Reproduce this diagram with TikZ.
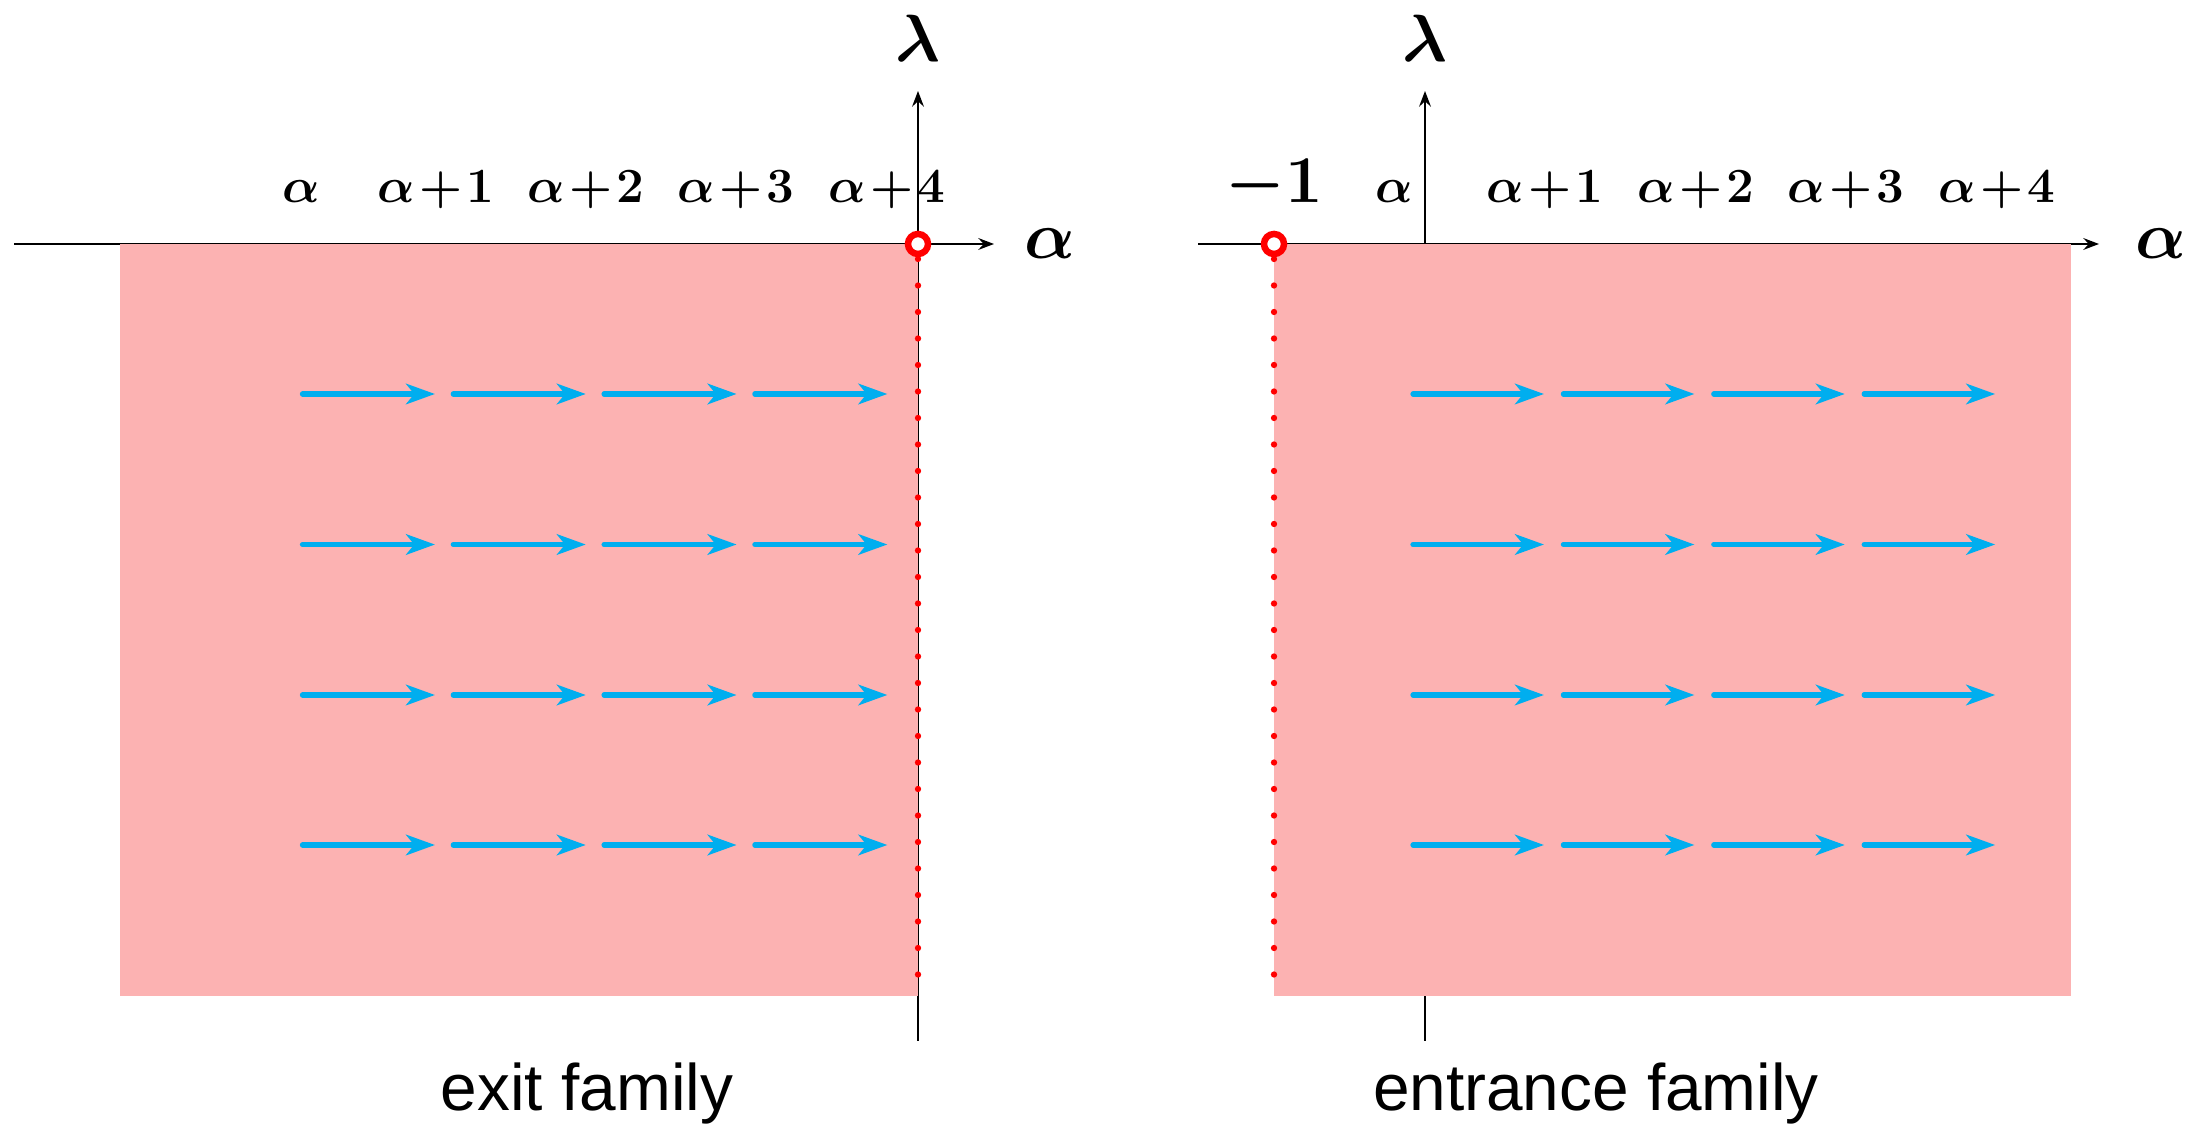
\RequirePackage{fix-cm}
\documentclass[tikz,border=0pt]{standalone}
\usepackage{fontspec}
\usepackage{bm}
\usetikzlibrary{arrows.meta}
\newfontfamily\capfont{Liberation Sans}
\definecolor{regionpink}{RGB}{252,178,178}
\definecolor{flowblue}{RGB}{0,174,239}
\definecolor{markred}{RGB}{255,0,0}
% shift label: alpha plus an integer, set tight
\newcommand{\ashift}[1]{\bm{\alpha}\mkern1.5mu{\bm{+}}\mkern1.5mu\bm{#1}}

\begin{document}
\begin{tikzpicture}[x=0.01cm,y=-0.01cm,
  axis/.style={line width=0.45pt,-{Stealth[length=4.5pt,width=3.4pt,inset=1.6pt]}},
  flow/.style={flowblue,line width=1.5pt,line cap=round,-{Stealth[length=8.2pt,width=5.8pt,inset=2.3pt]}},
  region/.style={fill=regionpink},
  bounddot/.style={fill=markred},
  hole/.style={draw=markred,fill=white,line width=1.85pt},
  tick/.style={inner sep=0pt,anchor=base,font=\fontsize{14}{16}\selectfont},
  bigtick/.style={inner sep=0pt,anchor=base,font=\fontsize{19}{22}\selectfont},
  axlabel/.style={inner sep=0pt,font=\fontsize{19}{22}\selectfont},
  caption/.style={inner sep=0pt,anchor=base,font=\capfont\fontsize{18.7}{22}\selectfont}]

\useasboundingbox (0,0) rectangle (2190,1125);

% ---------- exit family ----------
\coordinate (LxA) at (14,244);
\coordinate (LxB) at (994,244);
\coordinate (LyA) at (918,1041);
\coordinate (LyB) at (918,91);
\draw[axis] (LxA) -- (LxB);
\draw[axis] (LyA) -- (LyB);
\fill[region] (120,244) rectangle (918,996);

\foreach \r in {394,544.5,695,845}{
  \foreach \i in {0,1,2,3}{
    \coordinate (ls) at (302.5+150.8*\i,\r);
    \coordinate (le) at (435+150.8*\i,\r);
    \draw[flow] (ls) -- (le);
  }
}
\foreach \k in {0,...,27}{
  \fill[bounddot] (918,259+26.5*\k) circle[radius=0.9pt];
}
\draw[hole] (918,244) circle[radius=2.85pt];

\node[tick] (La0) at (301,203) {$\bm{\alpha}$};
\node[tick] (La1) at (436,203) {$\ashift{1}$};
\node[tick] (La2) at (586,203) {$\ashift{2}$};
\node[tick] (La3) at (736,203) {$\ashift{3}$};
\node[tick] (La4) at (887,203) {$\ashift{4}$};
\node[axlabel] (Lxl) at (1050,244) {$\bm{\alpha}$};
\node[axlabel,anchor=base] (Lyl) at (918,62) {$\bm{\lambda}$};
\node[caption] (Lcap) at (587,1110) {exit family};

% ---------- entrance family ----------
\coordinate (RxA) at (1198,244);
\coordinate (RxB) at (2099,244);
\coordinate (RyA) at (1425,1041);
\coordinate (RyB) at (1425,91);
\draw[axis] (RxA) -- (RxB);
\draw[axis] (RyA) -- (RyB);
\fill[region] (1274,244) rectangle (2071,996);

\foreach \r in {394,544.5,695,845}{
  \foreach \i in {0,1,2,3}{
    \coordinate (rs) at (1413+150.4*\i,\r);
    \coordinate (re) at (1544+150.4*\i,\r);
    \draw[flow] (rs) -- (re);
  }
}
\foreach \k in {0,...,27}{
  \fill[bounddot] (1274,259+26.5*\k) circle[radius=0.9pt];
}
\draw[hole] (1274,244) circle[radius=2.85pt];

\node[bigtick] (Rm1) at (1274,203) {$\bm{-1}$};
\node[tick] (Ra0) at (1394,203) {$\bm{\alpha}$};
\node[tick] (Ra1) at (1545,203) {$\ashift{1}$};
\node[tick] (Ra2) at (1696,203) {$\ashift{2}$};
\node[tick] (Ra3) at (1846,203) {$\ashift{3}$};
\node[tick] (Ra4) at (1997,203) {$\ashift{4}$};
\node[axlabel] (Rxl) at (2161,244) {$\bm{\alpha}$};
\node[axlabel,anchor=base] (Ryl) at (1425,62) {$\bm{\lambda}$};
\node[caption] (Rcap) at (1596,1110) {entrance family};
\end{tikzpicture}
\end{document}
